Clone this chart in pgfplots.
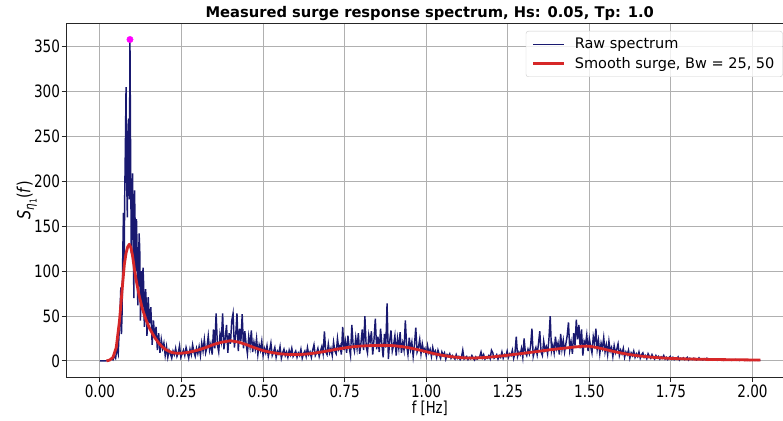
\documentclass[border=0pt]{standalone}
\usepackage{fontspec}
\setmainfont{DejaVu Sans}
\newfontfamily\condfont[FakeStretch=0.8]{DejaVu Sans}
\usepackage{pgfplots}
\pgfplotsset{compat=1.18}
\definecolor{rawblue}{HTML}{191970}
\definecolor{smred}{HTML}{D62728}
\definecolor{gridgray}{HTML}{B0B0B0}
\definecolor{pinkmag}{HTML}{FF00FF}
\begin{document}
\begin{tikzpicture}
\begin{axis}[
  scale only axis, width=716.5pt, height=354pt,
  xmin=-0.1025, xmax=2.0935, ymin=-17.9, ymax=376.4,
  axis lines*=left,
  axis line style={black!85, line width=0.9pt},
  clip=false,
  xtick={0,0.25,0.5,0.75,1,1.25,1.5,1.75,2},
  xticklabels={0.00,0.25,0.50,0.75,1.00,1.25,1.50,1.75,2.00},
  ytick={0,50,100,150,200,250,300,350},
  tick align=outside, major tick length=5pt,
  tick style={black!85, line width=0.9pt},
  grid=major, grid style={gridgray, line width=0.9pt},
  /pgf/number format/assume math mode=true,
  ticklabel style={font=\condfont\fontsize{17}{17}\selectfont},
  xticklabel style={inner sep=0pt, yshift=-3pt},
  yticklabel style={xshift=2pt},
  xlabel={f [Hz]},
  xlabel style={font=\condfont\fontsize{16.5}{16.5}\selectfont, inner sep=0pt, at={(axis description cs:0.507,-0.0876)}, anchor=center},
  ylabel={\textit{S}\raisebox{-0.4ex}{\fontsize{13}{13}\selectfont\textit{η}\raisebox{-0.35ex}{\fontsize{9.5}{9.5}\selectfont 1}}(\textit{f})},
  ylabel style={font=\condfont\fontsize{18}{18}\selectfont, at={(axis description cs:-0.0555,0.5)}, anchor=center},
  title={Measured surge response spectrum, Hs: 0.05, Tp: 1.0},
  title style={font=\bfseries\fontsize{14.7}{14.7}\selectfont, at={(axis description cs:0.507,1)}, anchor=base, yshift=-1pt},
  legend style={at={(axis description cs:0.9995,0.9774)}, anchor=north east,
    draw=black!20, rounded corners=2.5pt, fill=white, fill opacity=0.8, text opacity=1,
    font=\fontsize{14.5}{14.5}\selectfont, inner xsep=6pt, inner ysep=5pt,
    row sep=3pt, /tikz/every odd column/.append style={column sep=7pt}},
  legend cell align=left,
  legend image code/.code={\draw[#1] (0pt,0pt) -- (31pt,0pt);},
]
\addplot[rawblue, line width=1.45pt] coordinates {
(0,0) (0.004,0) (0.008,0.1) (0.012,0) (0.016,0.1) (0.02,0.2) (0.024,0.3) (0.028,0.5) (0.032,1) (0.036,2.5)
(0.04,1.2) (0.044,6) (0.048,3) (0.052,14) (0.056,8)
(0.058,25) (0.06,38) (0.062,60) (0.064,82) (0.066,30) (0.068,55) (0.07,120) (0.072,165) (0.074,95) (0.076,187)
(0.078,240) (0.08,305) (0.082,200) (0.084,160) (0.086,249) (0.088,270) (0.09,180) (0.092,358) (0.094,230) (0.096,120)
(0.098,170) (0.1,209) (0.102,135) (0.104,70) (0.106,190) (0.108,150) (0.11,100) (0.112,158) (0.114,120) (0.116,62)
(0.118,90) (0.12,142) (0.122,125) (0.124,45) (0.126,70) (0.128,100) (0.13,60) (0.132,104) (0.134,85) (0.136,38)
(0.138,55) (0.14,80) (0.142,65) (0.144,28) (0.146,40) (0.148,71) (0.15,55) (0.152,42) (0.156,60)
(0.16,18) (0.164,45) (0.168,25) (0.172,38) (0.176,12) (0.18,31) (0.184,9) (0.188,24) (0.192,14) (0.196,20)
(0.2,6) (0.204,16) (0.208,4) (0.212,12) (0.216,8) (0.22,3) (0.224,11) (0.228,7) (0.232,14) (0.236,5)
(0.24,9) (0.244,17) (0.248,4) (0.252,8) (0.256,12) (0.26,6) (0.264,15) (0.268,9) (0.272,3) (0.276,13)
(0.28,7) (0.284,18) (0.288,10) (0.292,5) (0.296,14) (0.3,8) (0.304,16) (0.308,6) (0.312,20) (0.316,11)
(0.32,24) (0.324,9) (0.328,15) (0.332,28) (0.336,12) (0.34,19) (0.344,7) (0.348,35) (0.352,14) (0.356,53)
(0.36,18) (0.364,10) (0.368,30) (0.372,22) (0.376,53) (0.38,13) (0.384,26) (0.388,40) (0.392,9) (0.396,31)
(0.4,19) (0.404,45) (0.408,53) (0.412,15) (0.416,28) (0.42,53) (0.424,11) (0.428,36) (0.432,22) (0.436,52)
(0.44,14) (0.444,33) (0.448,19) (0.452,8) (0.456,27) (0.46,16) (0.464,34) (0.468,10) (0.472,21) (0.476,13)
(0.48,25) (0.484,7) (0.488,18) (0.492,12) (0.496,22) (0.5,6) (0.504,14) (0.508,9) (0.512,17) (0.516,5)
(0.52,12) (0.524,20) (0.528,6) (0.532,10) (0.536,15) (0.54,4) (0.544,11) (0.548,8) (0.552,16) (0.556,3)
(0.56,9) (0.564,13) (0.568,6) (0.572,10) (0.576,4) (0.58,12) (0.584,7) (0.588,14) (0.592,5) (0.596,8)
(0.6,11) (0.604,4) (0.608,9) (0.612,6) (0.616,13) (0.62,3) (0.624,8) (0.628,11) (0.632,5) (0.636,15)
(0.64,7) (0.644,10) (0.648,4) (0.652,12) (0.656,18) (0.66,6) (0.664,9) (0.668,14) (0.672,5) (0.676,11)
(0.68,16) (0.684,8) (0.688,33) (0.692,10) (0.696,7) (0.7,19) (0.704,9) (0.708,14) (0.712,6) (0.716,21)
(0.72,11) (0.724,8) (0.728,25) (0.732,13) (0.736,17) (0.74,7) (0.744,38) (0.748,12) (0.752,22) (0.756,9)
(0.76,28) (0.764,15) (0.768,6) (0.772,40) (0.776,18) (0.78,11) (0.784,26) (0.788,14) (0.792,31) (0.796,8)
(0.8,20) (0.804,35) (0.808,12) (0.812,50) (0.816,16) (0.82,9) (0.824,29) (0.828,21) (0.832,33) (0.836,7)
(0.84,24) (0.844,47) (0.848,13) (0.852,27) (0.856,10) (0.86,36) (0.864,19) (0.868,4) (0.872,30) (0.876,15)
(0.88,64) (0.884,2) (0.888,22) (0.892,34) (0.896,11) (0.9,18) (0.904,28) (0.908,6) (0.912,25) (0.916,14)
(0.92,32) (0.924,9) (0.928,20) (0.932,12) (0.936,45) (0.94,17) (0.944,7) (0.948,26) (0.952,13) (0.956,21)
(0.96,5) (0.964,18) (0.968,37) (0.972,10) (0.976,15) (0.98,24) (0.984,8) (0.988,19) (0.992,11) (0.996,14)
(1,6) (1.004,17) (1.008,9) (1.012,13) (1.016,5) (1.02,15) (1.024,8) (1.028,11) (1.032,4) (1.036,12)
(1.04,7) (1.044,3) (1.048,10) (1.052,6) (1.056,9) (1.06,2) (1.064,7) (1.068,5) (1.072,8) (1.076,3)
(1.08,6) (1.084,4) (1.088,2) (1.092,7) (1.096,3) (1.1,5) (1.104,1.5) (1.108,4) (1.112,12) (1.116,2)
(1.12,3.5) (1.124,5) (1.128,1.5) (1.132,4) (1.136,2.5) (1.14,6) (1.144,3) (1.148,1) (1.152,4.5) (1.156,2)
(1.16,3) (1.164,5) (1.168,10) (1.172,3.5) (1.176,7) (1.18,2) (1.184,4) (1.188,3) (1.192,6) (1.196,2.5)
(1.2,12) (1.204,9) (1.208,3) (1.212,4.5) (1.216,7) (1.22,2) (1.224,6) (1.228,4) (1.232,10) (1.236,3)
(1.24,7) (1.244,5) (1.248,11) (1.252,4) (1.256,8) (1.26,6) (1.264,12) (1.268,3) (1.272,9) (1.276,27)
(1.28,5) (1.284,10) (1.288,7) (1.292,14) (1.296,4) (1.3,25) (1.304,9) (1.308,6) (1.312,13) (1.316,8)
(1.32,17) (1.324,36) (1.328,5) (1.332,11) (1.336,15) (1.34,7) (1.344,19) (1.348,33) (1.352,10) (1.356,6)
(1.36,22) (1.364,12) (1.368,16) (1.372,8) (1.376,24) (1.38,50) (1.384,11) (1.388,18) (1.392,9) (1.396,27)
(1.4,14) (1.404,20) (1.408,7) (1.412,30) (1.416,13) (1.42,23) (1.424,10) (1.428,19) (1.432,28) (1.436,43)
(1.44,12) (1.444,21) (1.448,8) (1.452,31) (1.456,17) (1.46,46) (1.464,24) (1.468,40) (1.472,14) (1.476,35)
(1.48,6) (1.484,22) (1.488,18) (1.492,29) (1.496,11) (1.5,25) (1.504,16) (1.508,9) (1.512,27) (1.516,19)
(1.52,36) (1.524,13) (1.528,23) (1.532,8) (1.536,20) (1.54,14) (1.544,26) (1.548,10) (1.552,18) (1.556,7)
(1.56,22) (1.564,11) (1.568,15) (1.572,5) (1.576,17) (1.58,9) (1.584,13) (1.588,19) (1.592,6) (1.596,12)
(1.6,8) (1.604,14) (1.608,4) (1.612,10) (1.616,7) (1.62,12) (1.624,3) (1.628,9) (1.632,6) (1.636,11)
(1.64,4) (1.644,8) (1.648,5) (1.652,10) (1.656,3) (1.66,7) (1.664,9) (1.668,4) (1.672,6) (1.676,2.5)
(1.68,8) (1.684,5) (1.688,3) (1.692,7) (1.696,4) (1.7,2) (1.704,6) (1.708,3.5) (1.712,5) (1.716,2)
(1.72,4.5) (1.724,3) (1.728,6) (1.732,2) (1.736,4) (1.74,1.5) (1.744,3.5) (1.748,5) (1.752,2) (1.756,4)
(1.76,1.5) (1.764,3) (1.768,2.5) (1.772,4.5) (1.776,1) (1.78,3) (1.784,2) (1.788,3.5) (1.792,1.5) (1.796,2.5)
(1.8,4) (1.804,1) (1.808,3) (1.812,2) (1.816,1.5) (1.82,3) (1.824,2.5) (1.828,1) (1.832,2) (1.836,3.5)
(1.84,1.5) (1.844,2) (1.848,1) (1.852,2.5) (1.856,1.5) (1.86,3) (1.864,1) (1.868,2) (1.872,1.5) (1.876,0.8)
(1.88,2) (1.884,1.2) (1.888,1.8) (1.892,0.7) (1.896,1.5) (1.9,2.2) (1.904,1) (1.908,1.4) (1.912,0.6) (1.916,1.7)
(1.92,1.1) (1.924,0.8) (1.928,1.5) (1.932,1) (1.936,0.6) (1.94,1.3) (1.944,0.9) (1.948,1.6) (1.952,0.7) (1.956,1.1)
(1.96,0.5) (1.964,1.2) (1.968,0.8) (1.972,1) (1.976,0.6) (1.98,1.3) (1.984,0.7) (1.988,0.9) (1.992,0.5) (1.996,1.1)
(2,0.7) (2.004,0.9) (2.008,0.6) (2.012,1) (2.016,0.5) (2.02,0.8) (2.024,0.6)
};
\addlegendentry{Raw spectrum}
\addplot[smred, line width=2.8pt, line join=round] coordinates {
(0.02,0) (0.03,1) (0.04,4) (0.05,15) (0.06,45) (0.07,88) (0.075,108) (0.08,120) (0.085,127) (0.09,130)
(0.095,126) (0.1,117) (0.105,104) (0.11,92) (0.12,73) (0.13,58) (0.14,47) (0.15,38) (0.16,31) (0.17,25)
(0.18,20) (0.19,16) (0.2,13) (0.21,11) (0.22,9.5) (0.23,8.8) (0.24,8.5) (0.25,8.6) (0.27,9.5) (0.3,12)
(0.325,15) (0.35,18.5) (0.375,21) (0.4,22.5) (0.425,21) (0.45,18) (0.475,14.5) (0.5,11.5) (0.525,9.5) (0.55,8)
(0.575,7.3) (0.6,7) (0.625,7.4) (0.65,8.3) (0.675,9.7) (0.7,11.3) (0.725,13) (0.75,14.5) (0.775,15.8) (0.8,16.6)
(0.825,17) (0.85,17.3) (0.875,17.3) (0.9,17) (0.925,16) (0.95,14.5) (0.975,12.5) (1,10.3) (1.025,8) (1.05,6.2)
(1.075,4.8) (1.1,3.8) (1.125,3.3) (1.15,3.3) (1.175,3.7) (1.2,4.4) (1.225,5.3) (1.25,6.4) (1.275,7.5) (1.3,8.6)
(1.325,9.8) (1.35,11) (1.375,12.2) (1.4,13.3) (1.425,14.3) (1.45,15.3) (1.475,16.2) (1.49,16.5) (1.5,16.3) (1.525,14.8)
(1.55,12.7) (1.575,10.5) (1.6,8.6) (1.625,7) (1.65,5.7) (1.675,4.7) (1.7,3.9) (1.725,3.3) (1.75,2.8) (1.8,2.2)
(1.85,1.8) (1.9,1.5) (1.95,1.3) (2,1.1) (2.024,1)
};
\addlegendentry{Smooth surge, Bw = 25, 50}
\addplot[only marks, mark=*, mark size=3.2pt, color=pinkmag, forget plot] coordinates {(0.092,358)};
\coordinate (sw) at (rel axis cs:0,0);
\coordinate (ne) at (rel axis cs:1,1);
\end{axis}
\draw[black!85, line width=0.9pt] (sw |- ne) -- (ne);
\pgfresetboundingbox
\path[use as bounding box] ([shift={(-66.5pt,-43pt)}]sw) rectangle ([shift={(0pt,23pt)}]ne);
\end{tikzpicture}
\end{document}
